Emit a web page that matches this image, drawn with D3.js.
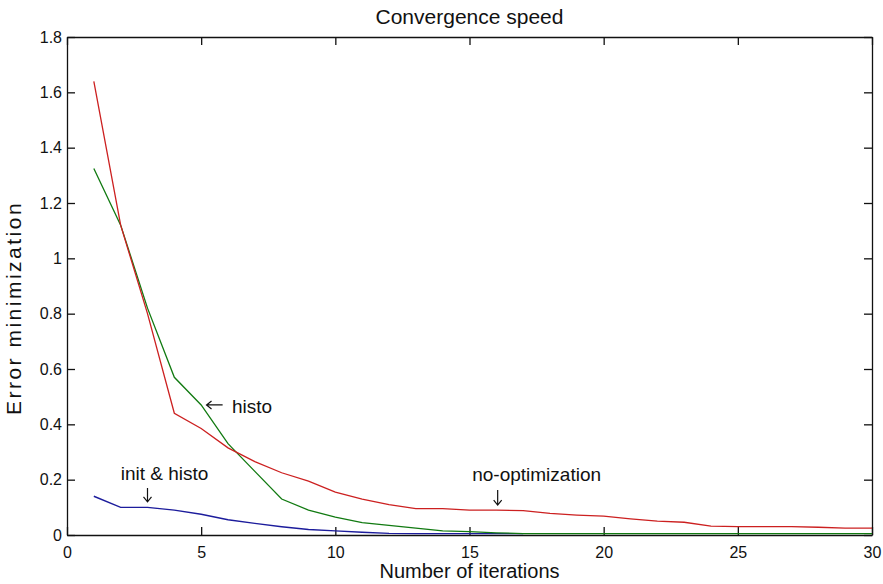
<!DOCTYPE html>
<html>
<head>
<meta charset="utf-8">
<script src="https://cdn.jsdelivr.net/npm/d3@7"></script>
<style>
  body { margin: 0; background: #fff; }
  text { font-family: "Liberation Sans", Arial, Helvetica, sans-serif; fill: #111; }
</style>
</head>
<body>
<div id="chart"></div>
<script>
// data
var iterations = [1, 2, 3, 4, 5, 6, 7, 8, 9, 10, 11, 12, 13, 14, 15,
                  16, 17, 18, 19, 20, 21, 22, 23, 24, 25, 26, 27, 28, 29, 30];
var noOptimization = [1.64, 1.12, 0.80, 0.44, 0.385, 0.315, 0.265, 0.225, 0.195, 0.155,
                      0.13, 0.11, 0.095, 0.095, 0.09, 0.09, 0.088, 0.078, 0.072, 0.068,
                      0.058, 0.05, 0.046, 0.032, 0.03, 0.03, 0.03, 0.028, 0.025, 0.025];
var histo = [1.325, 1.12, 0.82, 0.57, 0.47, 0.33, 0.23, 0.13, 0.09, 0.065,
             0.045, 0.035, 0.025, 0.015, 0.012, 0.008, 0.005, 0.005, 0.005, 0.005,
             0.005, 0.005, 0.005, 0.005, 0.005, 0.005, 0.005, 0.005, 0.005, 0.005];
var initHisto = [0.14, 0.10, 0.10, 0.09, 0.075, 0.055, 0.042, 0.03, 0.02, 0.015,
                 0.01, 0.006, 0.005, 0.005, 0.005, 0.005, 0.005];
var xTicks = [0, 5, 10, 15, 20, 25, 30];
var yTicks = [0, 0.2, 0.4, 0.6, 0.8, 1, 1.2, 1.4, 1.6, 1.8];
var yTickLabels = ["0", "0.2", "0.4", "0.6", "0.8", "1", "1.2", "1.4", "1.6", "1.8"];

var margin = {top: 37, right: 11, bottom: 49, left: 67},
    width = 883 - margin.left - margin.right,
    height = 584 - margin.top - margin.bottom;

var svg = d3.select("#chart")
  .append("svg")
    .attr("width", width + margin.left + margin.right)
    .attr("height", height + margin.top + margin.bottom)
  .append("g")
    .attr("transform", "translate(" + margin.left + "," + margin.top + ")");

var x = d3.scaleLinear().domain([0, 30]).range([0, width]);
var y = d3.scaleLinear().domain([0, 1.8]).range([height, 0]);

// axes, MATLAB style: ticks inside, box all round
svg.append("g")
  .attr("transform", "translate(0," + height + ")")
  .call(d3.axisBottom(x).tickValues(xTicks).tickSizeInner(-8).tickSizeOuter(0).tickPadding(12));
svg.append("g")
  .call(d3.axisLeft(y).tickValues(yTicks)
    .tickFormat(function(d, i) { return yTickLabels[i]; })
    .tickSizeInner(-8).tickSizeOuter(0).tickPadding(5));
svg.append("g")
  .call(d3.axisTop(x).tickValues(xTicks).tickFormat("").tickSizeInner(-8).tickSizeOuter(0));
svg.append("g")
  .attr("transform", "translate(" + width + ",0)")
  .call(d3.axisRight(y).tickValues(yTicks).tickFormat("").tickSizeInner(-8).tickSizeOuter(0));

svg.selectAll(".domain").attr("stroke", "#111").attr("stroke-width", 1.3);
svg.selectAll(".tick line").attr("stroke", "#111").attr("stroke-width", 1.3);
svg.selectAll(".tick text").attr("font-size", "16px").attr("fill", "#111")
  .attr("font-family", "Liberation Sans, Arial, sans-serif");

// lines
var line = d3.line()
  .x(function(d, i) { return x(iterations[i]); })
  .y(function(d) { return y(d); });

svg.append("path").datum(initHisto)
  .attr("fill", "none").attr("stroke", "#1c1c9c").attr("stroke-width", 1.4).attr("d", line);
svg.append("path").datum(histo)
  .attr("fill", "none").attr("stroke", "#117a11").attr("stroke-width", 1.3).attr("d", line);
svg.append("path").datum(noOptimization)
  .attr("fill", "none").attr("stroke", "#cc2020").attr("stroke-width", 1.3).attr("d", line);

// title and axis labels
svg.append("text")
  .attr("x", width / 2).attr("y", -13)
  .attr("text-anchor", "middle").attr("font-size", "21px")
  .text("Convergence speed");
svg.append("text")
  .attr("x", width / 2).attr("y", height + 43)
  .attr("text-anchor", "middle").attr("font-size", "20px")
  .text("Number of iterations");
svg.append("text")
  .attr("transform", "translate(" + (-46) + "," + (height / 2 + 22) + ") rotate(-90)")
  .attr("text-anchor", "middle").attr("font-size", "21px").attr("letter-spacing", "2.5px")
  .text("Error minimization");

// annotations
function downArrow(xv, yTop, yTip) {
  var px = x(xv), t = y(yTop), b = y(yTip);
  svg.append("path")
    .attr("d", "M" + px + "," + t + "L" + px + "," + b +
               "M" + (px - 4) + "," + (b - 5) + "L" + px + "," + b + "L" + (px + 4) + "," + (b - 5))
    .attr("fill", "none").attr("stroke", "#111").attr("stroke-width", 1.2);
}
function leftArrow(xTip, xEnd, yv) {
  var l = x(xTip), r = x(xEnd), py = y(yv);
  svg.append("path")
    .attr("d", "M" + r + "," + py + "L" + l + "," + py +
               "M" + (l + 5) + "," + (py - 4) + "L" + l + "," + py + "L" + (l + 5) + "," + (py + 4))
    .attr("fill", "none").attr("stroke", "#111").attr("stroke-width", 1.2);
}

svg.append("text").attr("x", x(2)).attr("y", y(0.2)).attr("font-size", "19px").text("init & histo");
downArrow(3, 0.17, 0.12);

leftArrow(5.2, 5.8, 0.47);
svg.append("text").attr("x", x(6.15)).attr("y", y(0.44)).attr("font-size", "19px").text("histo");

svg.append("text").attr("x", x(15.1)).attr("y", y(0.195)).attr("font-size", "19px").text("no-optimization");
downArrow(16.05, 0.163, 0.108);
</script>
</body>
</html>
